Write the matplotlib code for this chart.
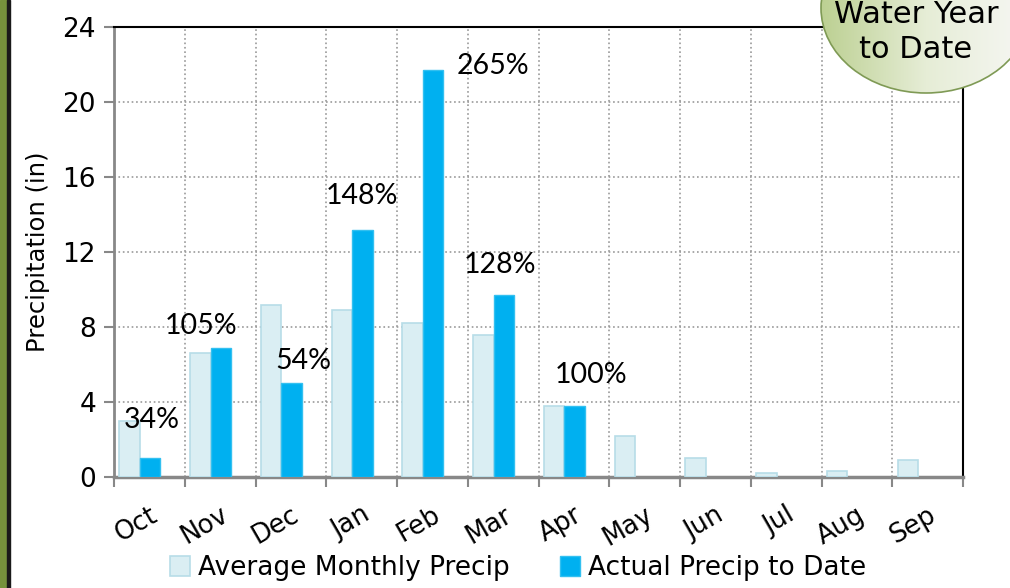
import numpy as np
import matplotlib.pyplot as plt
from matplotlib.patches import Ellipse, Rectangle
from matplotlib.colors import LinearSegmentedColormap

months = ['Oct', 'Nov', 'Dec', 'Jan', 'Feb', 'Mar', 'Apr', 'May', 'Jun', 'Jul', 'Aug', 'Sep']
avg_precip = [3.0, 6.6, 9.2, 8.9, 8.2, 7.6, 3.8, 2.2, 1.0, 0.2, 0.3, 0.9]
actual_precip = [1.0, 6.9, 5.0, 13.2, 21.7, 9.7, 3.8]
pct_labels = ['34%', '105%', '54%', '148%', '265%', '128%', '100%']
# label offsets from the top of each actual bar (pixels)
lab_dx = [2, -20, 12, 0, 60, -4, 16]
lab_dy = [38, 22, 22, 33, 4, 30, 31]

plt.rcParams['font.family'] = ['DejaVu Sans']

fig = plt.figure(figsize=(10.1, 5.88), dpi=100)
ax = fig.add_axes([114/1010, 111/588, 849/1010, 450/588])

x = np.arange(len(months))
ax.bar(x - 0.28, avg_precip, width=0.29, color='#daeef3', edgecolor='#b7dde8',
       linewidth=1.2, label='Average Monthly Precip', zorder=3)
ax.bar(x[:len(actual_precip)] + 0.01, actual_precip, width=0.29, color='#00b0f0',
       edgecolor='#33c0f0', linewidth=1, label='Actual Precip to Date', zorder=3)

for i, (v, t) in enumerate(zip(actual_precip, pct_labels)):
    ax.annotate(t, (i + 0.01, v), xytext=(lab_dx[i] * 0.72, lab_dy[i] * 0.72),
                textcoords='offset points', ha='center', va='center',
                fontsize=20.5, family='Lato', color='black', zorder=5)

ax.set_xlim(-0.5, 11.5)
ax.set_ylim(0, 24)
ax.set_yticks(range(0, 25, 4))
ax.set_xticks(x)
ax.set_xticklabels(months, rotation=30, ha='right', va='top', rotation_mode='anchor')
ax.set_xticks(np.arange(-0.5, 12, 1), minor=True)
ax.tick_params(axis='x', which='major', length=0, pad=18, labelsize=18.5)
ax.tick_params(axis='x', which='minor', length=7, width=1.5, color='#888888')
ax.tick_params(axis='y', length=7, width=1.5, color='#888888', labelsize=19, pad=6)

ax.grid(axis='y', which='major', linestyle=':', color='#999999', linewidth=1.2, zorder=0)
ax.grid(axis='x', which='minor', linestyle=':', color='#999999', linewidth=1.2, zorder=0)

ax.spines['left'].set_color('#888888')
ax.spines['left'].set_linewidth(2)
ax.spines['bottom'].set_color('#888888')
ax.spines['bottom'].set_linewidth(2.5)
ax.spines['top'].set_color('black')
ax.spines['top'].set_linewidth(1.5)
ax.spines['right'].set_color('black')
ax.spines['right'].set_linewidth(1.5)

ax.set_ylabel('Precipitation (in)', fontsize=17.5, labelpad=9)

ax.legend(loc='center', bbox_to_anchor=(0.476, -0.203), ncol=2, frameon=False,
          fontsize=19, handlelength=0.75, handleheight=0.75, columnspacing=1.9,
          handletextpad=0.3, borderpad=0)

# decorations: side strip and speech bubble
ov = fig.add_axes([0, 0, 1, 1], zorder=10)
ov.set_xlim(0, 1010)
ov.set_ylim(588, 0)
ov.axis('off')
ov.add_patch(Rectangle((0, 0), 7, 588, color='#76923c'))
ov.add_patch(Rectangle((7, 0), 3, 588, color='#1a1a1a'))

cx, cy, ew, eh = 926, 8, 210, 170
grad = np.linspace(0, 1, 256).reshape(1, -1)
img = ov.imshow(np.vstack([grad, grad]), extent=(cx - ew / 2, cx + ew / 2, cy + eh / 2, cy - eh / 2),
                aspect='auto', zorder=1,
                cmap=LinearSegmentedColormap.from_list('g', ['#bcd092', '#e6edd6', '#f7f7f5']))
fill = Ellipse((cx, cy), ew, eh, facecolor='none', edgecolor='none')
ov.add_patch(fill)
img.set_clip_path(fill)
ov.add_patch(Ellipse((cx, cy), ew, eh, facecolor='none', edgecolor='#7f9a55',
                     linewidth=1.2, zorder=2))
ov.text(916, 32, 'Water Year\nto Date', ha='center', va='center', fontsize=22,
        linespacing=1.3, zorder=3)
ov.set_xlim(0, 1010)
ov.set_ylim(588, 0)

fig.savefig('out.png', dpi=100)
